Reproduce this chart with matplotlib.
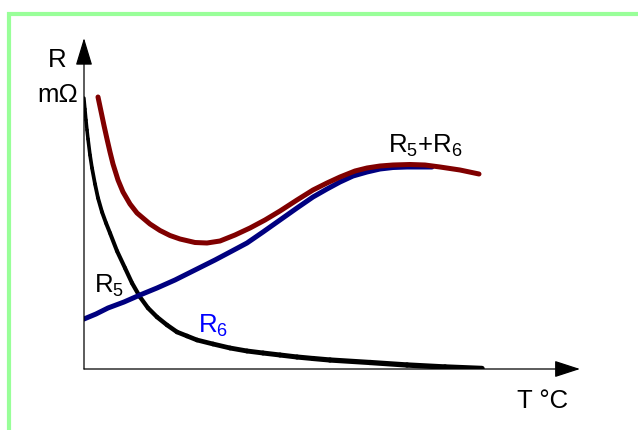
import numpy as np
import matplotlib
matplotlib.use("Agg")
import matplotlib.pyplot as plt
from matplotlib.collections import LineCollection
from matplotlib.patches import Rectangle

plt.rcParams['font.family'] = ['Liberation Sans', 'DejaVu Sans']
plt.rcParams['mathtext.fontset'] = 'custom'
plt.rcParams['mathtext.rm'] = 'Liberation Sans'
plt.rcParams['mathtext.default'] = 'regular'

# curves (T and R in arbitrary units)
r6_T = [0, 1, 2, 3, 4, 6, 8, 11, 14, 18, 22, 26, 33, 41, 48, 56, 64, 73, 83, 93,
        103, 113, 129, 146, 163, 179, 196, 213, 229, 246, 286, 323, 361, 398]
r6_R = [271, 260, 249, 239, 230, 214, 201, 185, 171, 157, 146, 136, 118, 101, 86,
        72, 61, 52, 44, 37, 33, 29, 25, 21, 18, 16, 14, 12, 10.5, 9, 6.5, 4, 2, 0.5]

r5_T = [0, 12, 24, 40, 56, 73, 91, 111, 131, 148, 163, 179, 196, 213, 229, 243,
        256, 269, 283, 296, 309, 323, 336, 348]
r5_R = [50, 55, 61, 67, 74, 81, 89, 99, 109, 118, 126, 137, 149, 161, 172, 180,
        187, 193, 197, 200, 201.5, 202, 202, 202]

sum_T = [14, 16, 18, 20, 23, 26, 29, 34, 39, 46, 53, 66, 76, 86, 96, 111, 123,
         136, 151, 166, 181, 196, 213, 229, 243, 256, 271, 283, 296, 309, 326,
         341, 356, 376, 395]
sum_R = [272, 262.5, 253, 243.5, 230, 217, 205, 189, 177, 165, 156, 145, 138.5,
         133.5, 130, 126.5, 126, 128, 134, 141, 149, 158, 169, 179, 186, 192, 198,
         201, 203, 204, 204.5, 204, 202, 199, 195]

fig = plt.figure(figsize=(6.38, 4.30), dpi=100)

# light green frame, cut by the picture edges
fig.add_artist(Rectangle((9 / 638, -0.2), 1.2, 1 - 14 / 430 + 0.2,
                         transform=fig.transFigure, fill=False,
                         edgecolor='#99ff99', lw=3))

ax = fig.add_axes([84 / 638, 61 / 430, 496 / 638, 331 / 430])
ax.set_xlim(0, 496)
ax.set_ylim(0, 331)
ax.axis('off')

# axes with arrow heads
ax.annotate('', xy=(1, 0), xytext=(0, 0), xycoords='axes fraction',
            arrowprops=dict(arrowstyle='-|>,head_length=0.4,head_width=0.13',
                            mutation_scale=40, lw=0.9, color='k',
                            shrinkA=0, shrinkB=0))
ax.annotate('', xy=(0, 1), xytext=(0, 0), xycoords='axes fraction',
            arrowprops=dict(arrowstyle='-|>,head_length=0.43,head_width=0.13',
                            mutation_scale=40, lw=0.9, color='k',
                            shrinkA=0, shrinkB=0))

# R6 : black, getting thicker to the right
pts = np.column_stack([r6_T, r6_R]).reshape(-1, 1, 2)
segs = np.concatenate([pts[:-1], pts[1:]], axis=1)
lc = LineCollection(segs, colors='k', linewidths=np.linspace(2.4, 3.9, len(segs)),
                    capstyle='round', joinstyle='round')
ax.add_collection(lc)

ax.plot(r5_T, r5_R, color='#000080', lw=3.6, solid_capstyle='round',
        solid_joinstyle='round')
ax.plot(sum_T, sum_R, color='#800000', lw=3.6, solid_capstyle='round',
        solid_joinstyle='round')

fs = 18.5
ax.text(10, 76, r'R$_5$', fontsize=fs, color='k')
ax.text(114, 36, r'R$_6$', fontsize=fs, color='#0000ff')
ax.text(304, 216, r'R$_5$+R$_6$', fontsize=fs, color='k')
ax.text(-36, 302, 'R', fontsize=fs, color='k', clip_on=False)
ax.text(-47, 267, 'm\u03a9', fontsize=fs, color='k', clip_on=False)
ax.text(433, -39, 'T \u00b0C', fontsize=fs, color='k', clip_on=False)

fig.savefig('out.png', dpi=100)
